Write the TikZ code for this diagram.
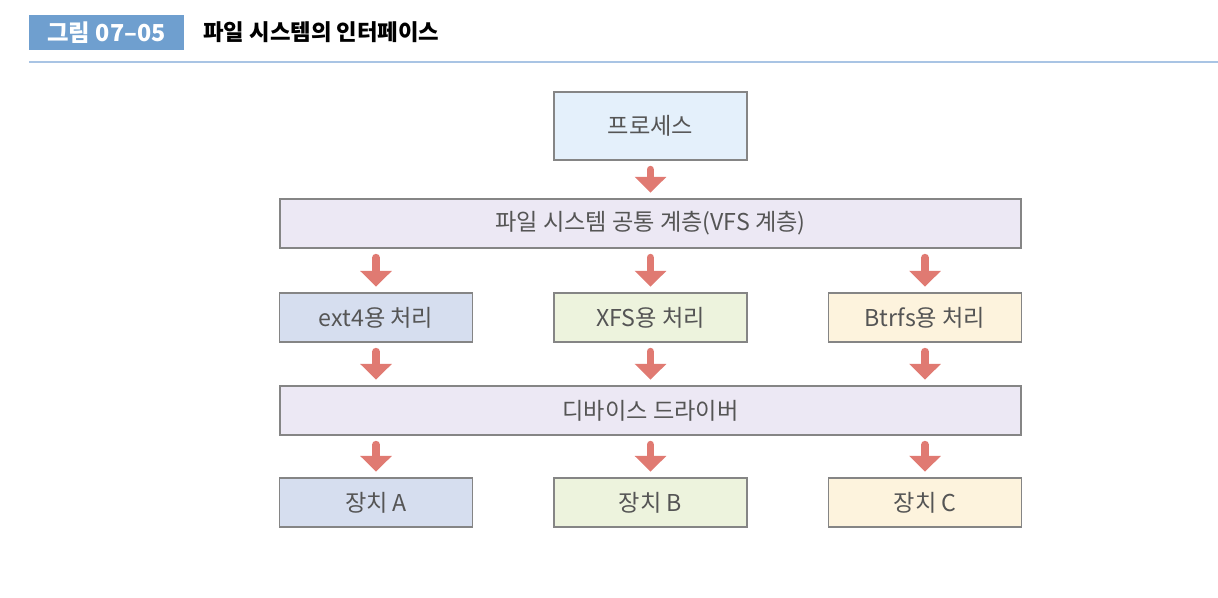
\documentclass[tikz,border=0pt]{standalone}
\usepackage{fontspec}
\setmainfont{Noto Sans CJK KR}
\usetikzlibrary{arrows.meta}

\definecolor{tagblue}{HTML}{6F9FCF}
\definecolor{rule}{HTML}{A9C4E4}
\definecolor{boxline}{HTML}{858585}
\definecolor{boxtext}{HTML}{555555}
\definecolor{procfill}{HTML}{E4F0FB}
\definecolor{layerfill}{HTML}{ECE8F4}
\definecolor{extfill}{HTML}{D6DEEF}
\definecolor{xfsfill}{HTML}{EDF3DD}
\definecolor{btrfill}{HTML}{FDF3DD}
\definecolor{arrowred}{HTML}{E07A72}

\tikzset{
  box/.style={draw=boxline, line width=1.1pt, text=boxtext, inner sep=0pt,
    font=\fontsize{13.2}{15}\selectfont, minimum height=0.98cm},
  small/.style={box, minimum width=3.86cm},
  wide/.style={box, minimum width=14.82cm},
  flow/.style={draw=arrowred, line width=4.5pt, line cap=round,
    -{Triangle[width=0.62cm,length=0.32cm]}, shorten <=5pt, shorten >=3pt},
}

\begin{document}
\begin{tikzpicture}[x=0.02cm,y=-0.02cm]
\useasboundingbox (0,0) rectangle (1218,598);

% caption
\node[fill=tagblue, text=white, font=\bfseries\fontsize{13.3}{15}\selectfont,
  minimum width=3.1cm, minimum height=0.7cm, inner sep=0pt] (tag) at (106.5,32.5) {그림 07–05};
\node[anchor=west, font=\bfseries\fontsize{12.7}{15}\selectfont, inner sep=0pt] (title) at (203,32.5) {파일 시스템의 인터페이스};
\draw[rule, line width=1.2pt] (29,62) -- (1218,62);

% boxes
\node[box, fill=procfill, minimum width=3.86cm, minimum height=1.36cm] (proc) at (650.5,126) {프로세스};
\node[wide, fill=layerfill] (vfs) at (650.5,223.5) {파일 시스템 공통 계층(VFS 계층)};
\node[small, fill=extfill] (ext) at (376,317.5) {ext4용 처리};
\node[small, fill=xfsfill] (xfs) at (650.5,317.5) {XFS용 처리};
\node[small, fill=btrfill] (btr) at (925,317.5) {Btrfs용 처리};
\node[wide, fill=layerfill] (drv) at (650.5,410.5) {디바이스 드라이버};
\node[small, fill=extfill] (devA) at (376,502.5) {장치 A};
\node[small, fill=xfsfill] (devB) at (650.5,502.5) {장치 B};
\node[small, fill=btrfill] (devC) at (925,502.5) {장치 C};

% arrows
\draw[flow] (proc) -- (vfs);
\foreach \n in {ext,xfs,btr}
  \draw[flow] (\n.north |- vfs.south) -- (\n);
\foreach \n in {ext,xfs,btr}
  \draw[flow] (\n) -- (\n.south |- drv.north);
\foreach \n in {devA,devB,devC}
  \draw[flow] (\n.north |- drv.south) -- (\n);
\end{tikzpicture}
\end{document}
